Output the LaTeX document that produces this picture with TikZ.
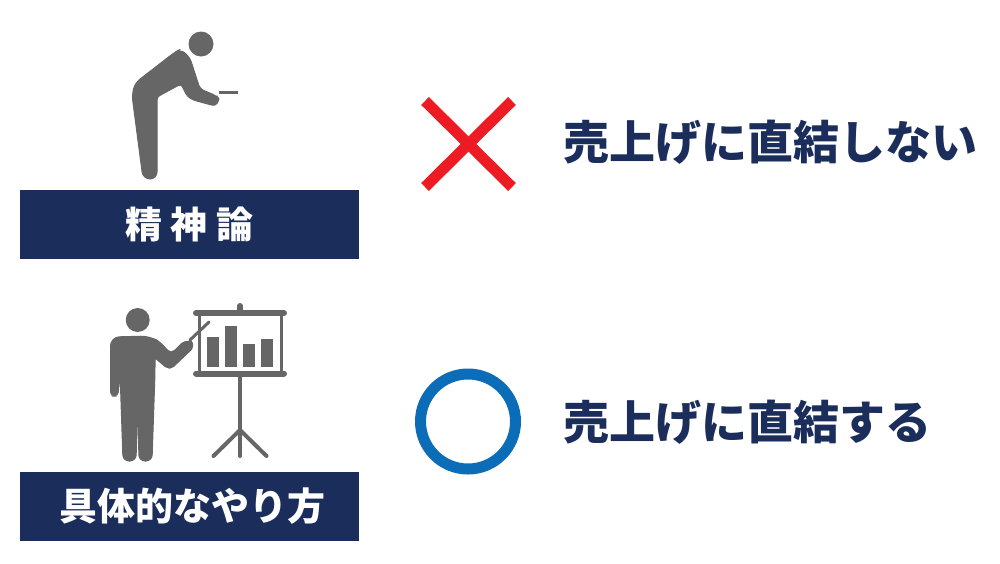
\documentclass[tikz,border=0pt]{standalone}
\usepackage{fontspec}
\setmainfont{Noto Sans CJK JP}[BoldFont={Noto Sans CJK JP Black}]
\usetikzlibrary{positioning}
\definecolor{navy}{HTML}{1B2D5B}
\definecolor{figgray}{HTML}{666666}
\definecolor{crossred}{HTML}{ED1C24}
\definecolor{ringblue}{HTML}{0B6DB7}
\tikzset{
    banner/.style={fill=navy, draw=none, minimum width=339pt, minimum height=69pt, inner sep=0pt,
        text=white, font=\fontsize{37}{37}\selectfont\bfseries},
    result/.style={text=navy, inner sep=0pt, anchor=west, font=\fontsize{46}{46}\selectfont\bfseries},
    figure/.style={fill=figgray, draw=figgray, line width=1pt, rounded corners=3pt},
    rod/.style={draw=figgray, line cap=round}
}

\begin{document}
\begin{tikzpicture}[x=1pt, y=-1pt]
    \useasboundingbox (0,0) rectangle (1000,563);
    % top row
    \fill[figgray] (201,44) circle (12.5);
    \path[figure, rounded corners=4pt] (181,49) -- (190,58) -- (200,89) -- (217,96)
        [rounded corners=3pt] -- (219.5,100) -- (215,106) -- (193,100) -- (187,96) -- (181,84) -- (157,97)
        [rounded corners=7pt] -- (157,179) -- (143,179) [rounded corners=6pt] -- (132,95) -- (135,83) -- (175,52) -- cycle;
    \coordinate (penl) at (219,92.5);
    \coordinate (penr) at (238,92.5);
    \draw[figgray, line width=2.5pt] (penl) -- (penr);
    \node[banner] (talk) at (189.5,224) {精\hspace{9pt}神\hspace{9pt}論};
    \coordinate (crossa) at (425,101);
    \coordinate (crossb) at (512,187);
    \coordinate (crossc) at (512,101);
    \coordinate (crossd) at (425,187);
    \draw[crossred, line width=11pt] (crossa) -- (crossb);
    \draw[crossred, line width=11pt] (crossc) -- (crossd);
    \node[result] (ngtext) at (563,142) {売上げに直結しない};
    % bottom row
    \fill[figgray] (137.7,320) circle (12);
    \path[figure, rounded corners=9pt] (110.5,356) -- (110.5,337) -- (150,336)
        [rounded corners=5pt] -- (160,342) -- (171,354)
        [rounded corners=2pt] -- (183,342) -- (192,341) -- (193,348) -- (172,368) -- (167,368) -- (155,358)
        [rounded corners=6pt] -- (155,373) -- (152,461) -- (139,461) [rounded corners=1pt] -- (137.7,403)
        [rounded corners=6pt] -- (136,461) -- (123,461) -- (120,372) [rounded corners=4pt] -- (118,396) -- (110.5,396) -- cycle;
    \coordinate (stickl) at (190,340);
    \coordinate (stickr) at (209,322);
    \draw[rod, line width=3pt] (stickl) -- (stickr);
    % easel
    \coordinate (topl) at (196,313);
    \coordinate (topr) at (284,313);
    \coordinate (lowl) at (196,373.5);
    \coordinate (lowr) at (284,373.5);
    \coordinate (foot) at (240,456);
    \coordinate (fork) at (240,430);
    \draw[rod, line width=6pt] (topl) -- (topr);
    \draw[rod, line width=6pt] (lowl) -- (lowr);
    \draw[rod, line width=6pt] (240,306) -- (240,313);
    \draw[figgray, line width=3pt] (199.5,313) -- (199.5,373.5);
    \draw[figgray, line width=3pt] (281.5,313) -- (281.5,373.5);
    \draw[rod, line width=4pt] (lowl -| foot) -- (foot);
    \draw[rod, line width=4pt] (fork) -- (213.5,456);
    \draw[rod, line width=4pt] (fork) -- (266.5,456);
    \fill[figgray] (207,336.5) rectangle (218.5,366.5);
    \fill[figgray] (225,326) rectangle (236.5,366.5);
    \fill[figgray] (243,344) rectangle (254.5,366.5);
    \fill[figgray] (261,339) rectangle (272.5,366.5);
    \node[banner] (method) at (189.5,506.5) {\hspace*{6pt}\fontsize{38}{38}\selectfont 具体的なやり方};
    \node[draw=ringblue, line width=11pt, circle, minimum size=95pt, inner sep=0pt] (ring) at (468,421.5) {};
    \node[result] (oktext) at (563,422) {売上げに直結する};
\end{tikzpicture}
\end{document}
